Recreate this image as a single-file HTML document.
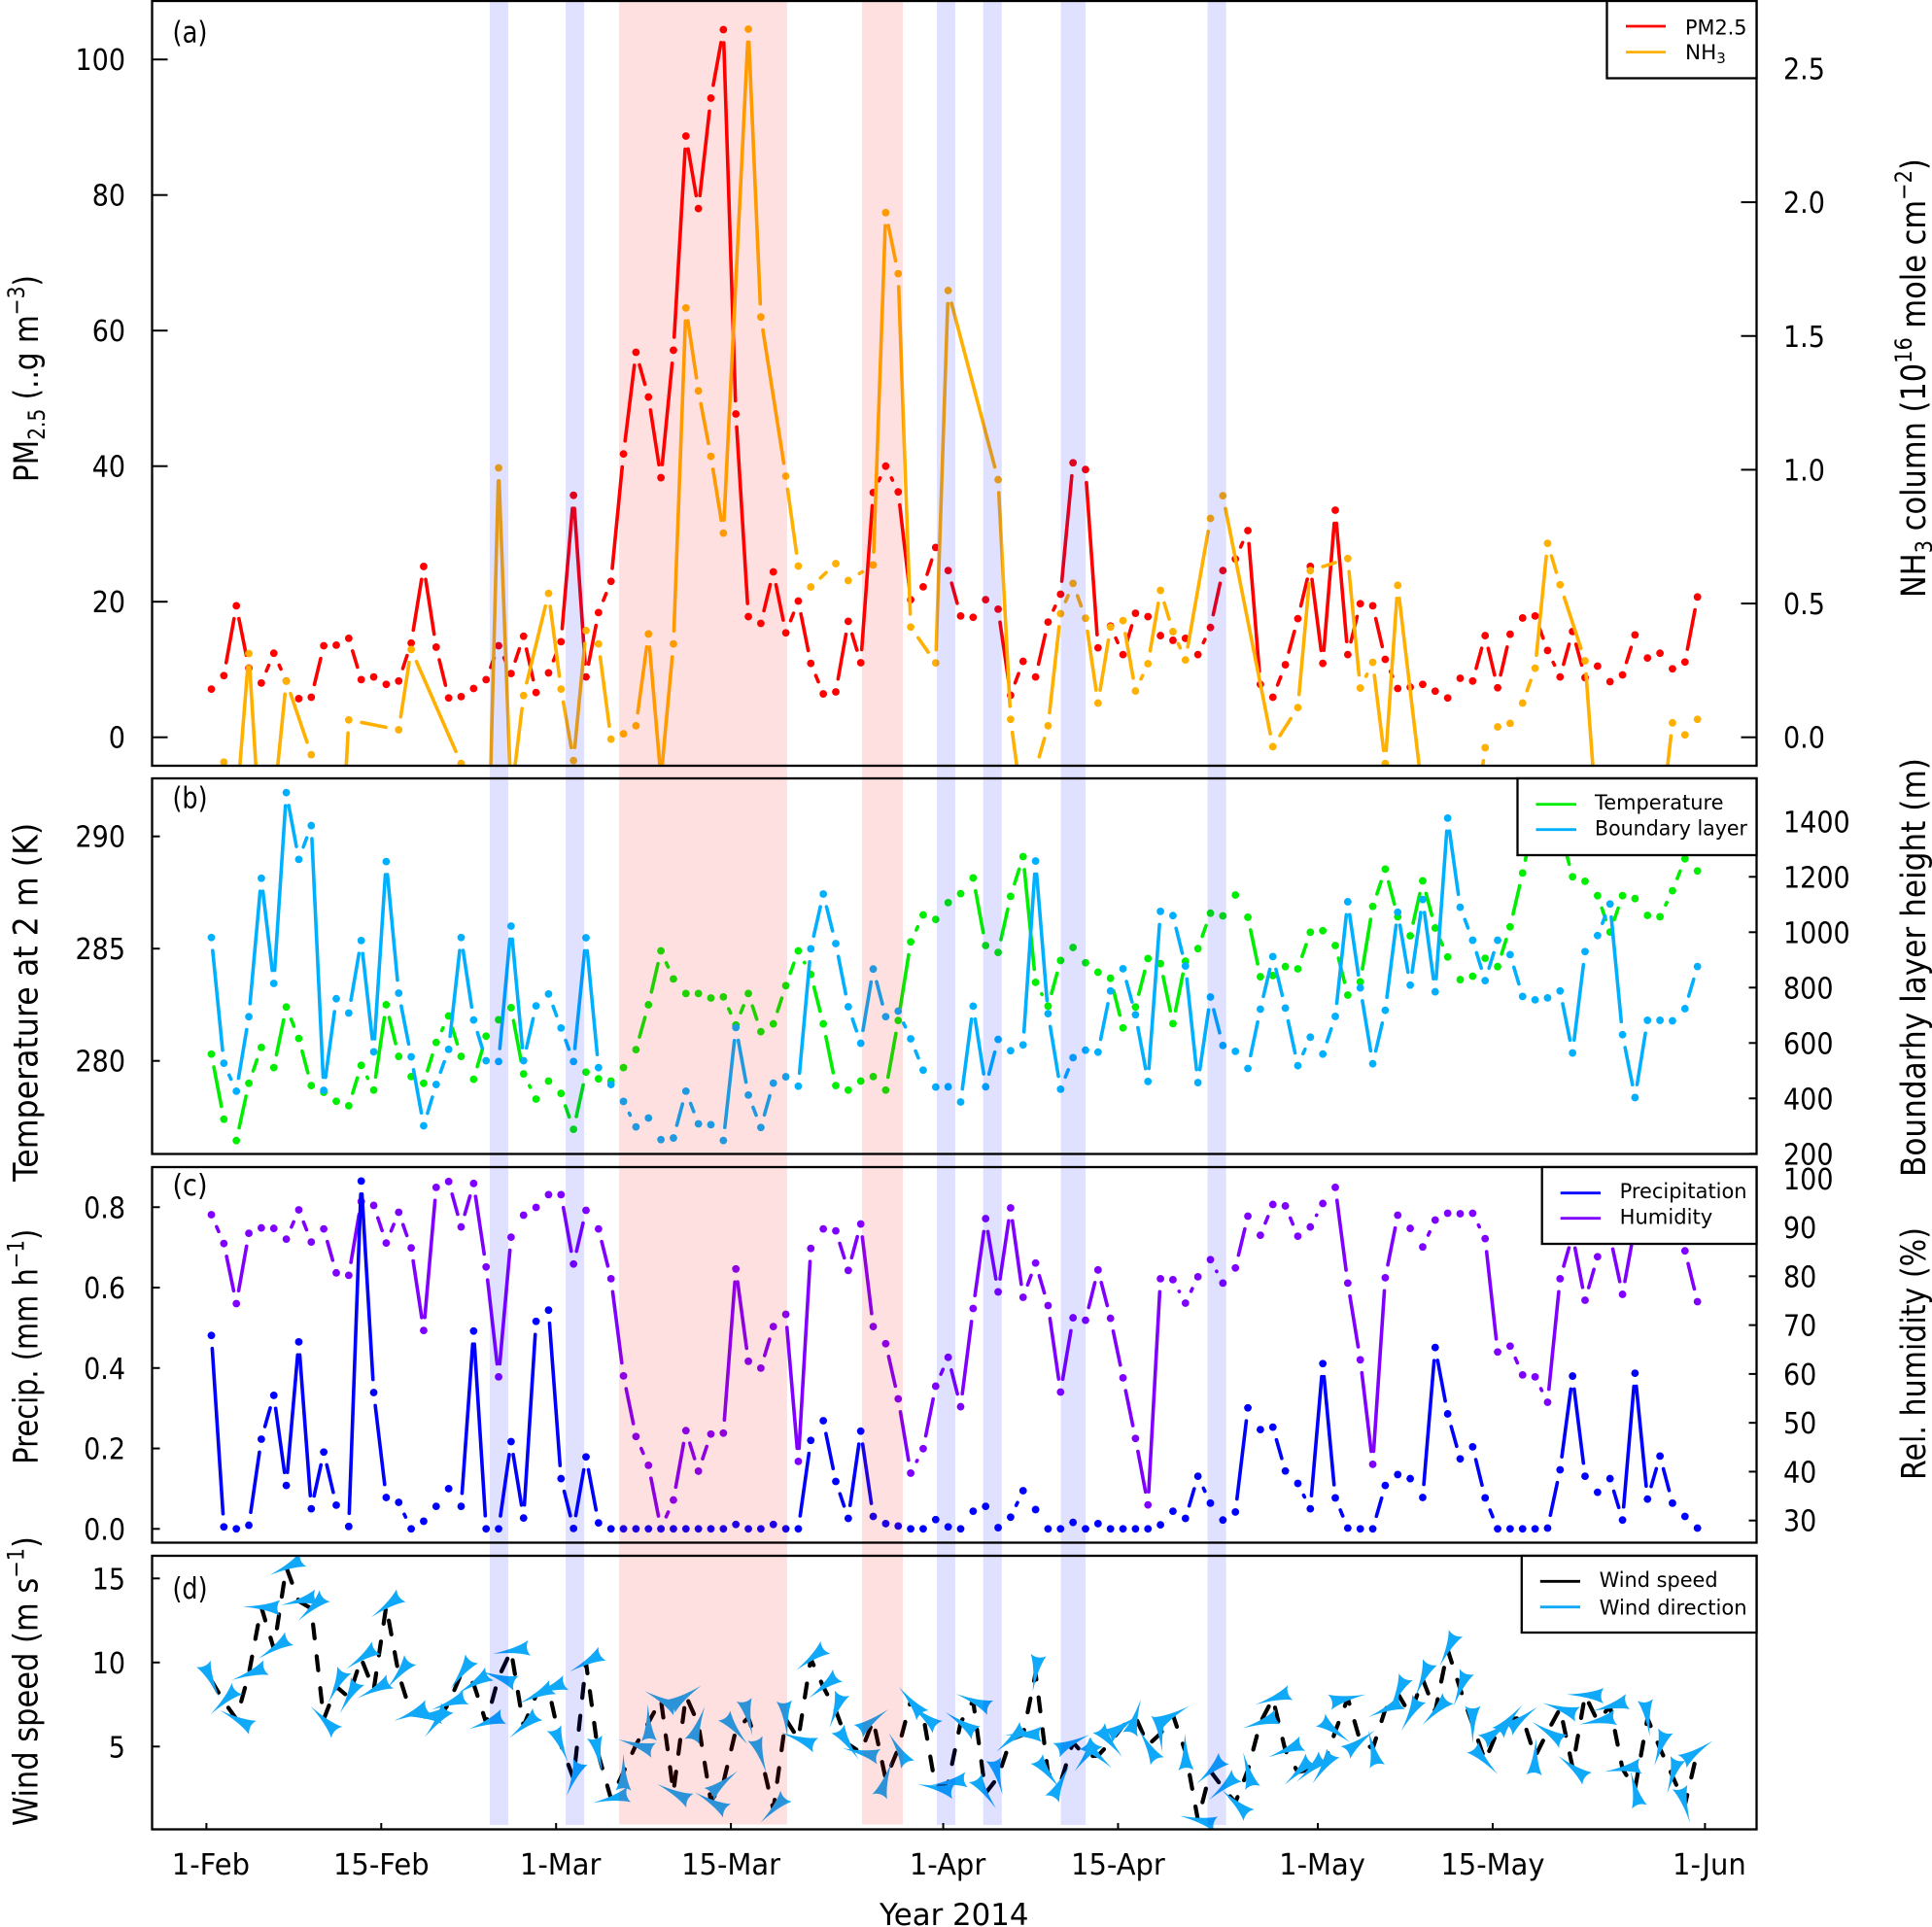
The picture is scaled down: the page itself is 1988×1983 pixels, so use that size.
<!DOCTYPE html>
<html lang="en">
<head>
<meta charset="utf-8">
<title>Year 2014 time series</title>
<style>
html,body{margin:0;padding:0;background:#fff}
svg{display:block}
text{font-family:"DejaVu Sans","Liberation Sans",sans-serif;fill:#000}
</style>
</head>
<body>
<svg id="chart" xmlns="http://www.w3.org/2000/svg" width="1988" height="1983" viewBox="0 0 1988 1983">
<rect x="0" y="0" width="1988" height="1983" fill="#fff"/>
<defs>
<clipPath id="clip-a"><rect x="156.5" y="1" width="1651" height="787"/></clipPath>
<clipPath id="clip-b"><rect x="156.5" y="801" width="1651" height="386.5"/></clipPath>
<clipPath id="clip-c"><rect x="156.5" y="1201" width="1651" height="386.5"/></clipPath>
<clipPath id="clip-d"><rect x="156.5" y="1601" width="1651" height="281.5"/></clipPath>
</defs>
<g id="series-layer"></g>
<g id="band-layer"></g>
<g id="axis-layer"></g>

<g fill="none" stroke="#000" stroke-width="2.3">
<rect x="156.5" y="1" width="1651" height="787"/>
<rect x="156.5" y="801" width="1651" height="386.5"/>
<rect x="156.5" y="1201" width="1651" height="386.5"/>
<rect x="156.5" y="1601" width="1651" height="281.5"/>
</g>

<g>
<rect x="1653.5" y="1" width="154" height="79.5" fill="#fff" stroke="#000" stroke-width="2.3"/>
<line x1="1673" x2="1714" y1="27" y2="27" stroke="#ff0000" stroke-width="2.8"/>
<line x1="1673" x2="1714" y1="53.6" y2="53.6" stroke="#ffb000" stroke-width="2.8"/>
<text x="1734" y="35.7" font-size="21.5" textLength="63.5" lengthAdjust="spacingAndGlyphs">PM2.5</text>
<text x="1734" y="61" font-size="21.5">NH<tspan font-size="15" dy="4">3</tspan></text>
</g>
<g>
<rect x="1561.5" y="801" width="246" height="79" fill="#fff" stroke="#000" stroke-width="2.3"/>
<line x1="1580.5" x2="1622" y1="827.7" y2="827.7" stroke="#00ee00" stroke-width="2.8"/>
<line x1="1580.5" x2="1622" y1="853.7" y2="853.7" stroke="#00b0ff" stroke-width="2.8"/>
<text x="1641" y="833" font-size="21.5" textLength="132.5" lengthAdjust="spacingAndGlyphs">Temperature</text>
<text x="1641" y="859.3" font-size="21.5" textLength="157" lengthAdjust="spacingAndGlyphs">Boundary layer</text>
</g>
<g>
<rect x="1586.7" y="1201" width="220.8" height="79" fill="#fff" stroke="#000" stroke-width="2.3"/>
<line x1="1605.7" x2="1647" y1="1227.7" y2="1227.7" stroke="#0000ff" stroke-width="2.8"/>
<line x1="1605.7" x2="1647" y1="1253.7" y2="1253.7" stroke="#8000ff" stroke-width="2.8"/>
<text x="1666.6" y="1233" font-size="21.5" textLength="131" lengthAdjust="spacingAndGlyphs">Precipitation</text>
<text x="1666.6" y="1259.3" font-size="21.5" textLength="95.6" lengthAdjust="spacingAndGlyphs">Humidity</text>
</g>
<g>
<rect x="1565.8" y="1601" width="241.7" height="79" fill="#fff" stroke="#000" stroke-width="2.3"/>
<line x1="1584.8" x2="1626" y1="1627.3" y2="1627.3" stroke="#000" stroke-width="2.8"/>
<line x1="1584.8" x2="1626" y1="1653.7" y2="1653.7" stroke="#10a8f8" stroke-width="2.8"/>
<text x="1645.6" y="1633" font-size="21.5" textLength="122" lengthAdjust="spacingAndGlyphs">Wind speed</text>
<text x="1645.6" y="1661.5" font-size="21.5" textLength="152" lengthAdjust="spacingAndGlyphs">Wind direction</text>
</g>

<g>
<text x="177.5" y="43.5" font-size="30" textLength="36" lengthAdjust="spacingAndGlyphs">(a)</text>
<text x="177.5" y="831.7" font-size="30" textLength="36" lengthAdjust="spacingAndGlyphs">(b)</text>
<text x="177.5" y="1230" font-size="30" textLength="36" lengthAdjust="spacingAndGlyphs">(c)</text>
<text x="177.5" y="1645" font-size="30" textLength="36" lengthAdjust="spacingAndGlyphs">(d)</text>
</g>

<g>
<text class="vt" data-x="39" data-y="496" data-len="213" font-size="35">PM<tspan font-size="24" dy="7">2.5</tspan><tspan dy="-7"> (..g m</tspan><tspan font-size="24" dy="-14">−3</tspan><tspan dy="14">)</tspan></text>
<text class="vt" data-x="38.5" data-y="1215.7" data-len="369" font-size="35">Temperature at 2 m  (K)</text>
<text class="vt" data-x="38.5" data-y="1506.7" data-len="242" font-size="35">Precip. (mm h<tspan font-size="24" dy="-14">−1</tspan><tspan dy="14">)</tspan></text>
<text class="vt" data-x="38.5" data-y="1879" data-len="298" font-size="35">Wind speed (m s<tspan font-size="24" dy="-14">−1</tspan><tspan dy="14">)</tspan></text>
<text class="vt" data-x="1981" data-y="615" data-len="452" font-size="35">NH<tspan font-size="24" dy="7">3</tspan><tspan dy="-7"> column (10</tspan><tspan font-size="24" dy="-14">16</tspan><tspan dy="14"> mole cm</tspan><tspan font-size="24" dy="-14">−2</tspan><tspan dy="14">)</tspan></text>
<text class="vt" data-x="1981" data-y="1211" data-len="431" font-size="35">Boundarhy layer height (m)</text>
<text class="vt" data-x="1981" data-y="1523" data-len="260" font-size="35">Rel. humidity (%)</text>
<text x="905" y="1981" font-size="31" textLength="153.5" lengthAdjust="spacingAndGlyphs">Year 2014</text>
</g>

<script>
const xTickDays = [0, 14, 28, 42, 59, 73, 89, 103, 120];
const xTickLabels = ['1-Feb', '15-Feb', '1-Mar', '15-Mar', '1-Apr', '15-Apr', '1-May', '15-May', '1-Jun'];

const pmTicks = [0, 20, 40, 60, 80, 100];
const pmTickLabels = ['0', '20', '40', '60', '80', '100'];
const nh3Ticks = [0, 0.5, 1, 1.5, 2, 2.5];
const nh3TickLabels = ['0.0', '0.5', '1.0', '1.5', '2.0', '2.5'];
const tempTicks = [280, 285, 290];
const tempTickLabels = ['280', '285', '290'];
const blhTicks = [200, 400, 600, 800, 1000, 1200, 1400];
const blhTickLabels = ['200', '400', '600', '800', '1000', '1200', '1400'];
const precipTicks = [0, 0.2, 0.4, 0.6, 0.8];
const precipTickLabels = ['0.0', '0.2', '0.4', '0.6', '0.8'];
const rhTicks = [30, 40, 50, 60, 70, 80, 90, 100];
const rhTickLabels = ['30', '40', '50', '60', '70', '80', '90', '100'];
const windTicks = [5, 10, 15];
const windTickLabels = ['5', '10', '15'];

const blueBandDays = [[22.69, 24.17], [28.77, 30.25], [58.49, 59.97], [62.2, 63.69], [68.42, 70.4], [80.17, 81.65]];
const pinkBandDays = [[33.04, 46.5], [52.5, 55.77]];

const pm25 = [7.1,9.1,19.4,10.2,8.0,12.4,8.3,5.7,5.9,13.5,13.6,14.6,8.5,8.9,7.8,8.3,13.9,25.2,13.3,5.8,
6.0,7.2,8.5,13.5,9.4,14.9,6.6,9.5,14.1,35.7,8.9,18.4,23.0,41.8,56.8,50.2,38.3,57.1,88.7,78.0,
94.3,104.4,47.7,17.8,16.8,24.4,15.4,20.1,10.9,6.4,6.7,17.1,11.0,36.1,40.0,36.2,20.3,22.2,28.0,24.6,
17.9,17.7,20.3,18.9,6.2,11.2,8.9,17.0,21.1,40.5,39.5,13.2,16.4,12.2,18.3,17.8,15.0,14.3,14.6,12.2,
16.2,24.6,26.3,30.5,7.8,5.9,10.7,17.5,25.2,10.9,33.5,12.2,19.7,19.4,11.5,7.2,7.4,7.8,6.8,5.8,
8.7,8.3,15.0,7.3,15.2,17.6,17.9,12.8,8.9,15.6,8.8,10.5,8.2,9.2,15.1,11.7,12.4,10.1,11.1,20.7];

const nh3 = [null,-0.093,-0.27,0.313,-0.43,-0.25,0.21,null,-0.065,null,-0.79,0.065,null,null,null,0.028,0.328,null,null,null,
-0.098,null,-0.77,1.007,-0.228,0.156,null,0.538,0.18,-0.087,0.399,0.349,-0.007,0.013,0.043,0.386,-0.154,0.349,1.605,1.295,
1.05,0.763,null,2.647,1.571,null,0.976,0.64,0.562,null,0.649,0.586,null,0.644,1.961,1.733,0.412,null,0.278,1.67,
null,null,null,0.963,0.067,-0.284,-0.12,0.043,0.462,0.575,0.445,0.128,0.412,0.436,0.173,0.275,0.549,0.395,0.289,null,
0.818,0.903,null,null,null,-0.035,null,0.111,0.623,null,null,0.668,0.184,0.28,-0.098,0.568,null,-0.219,null,null,
null,-0.39,-0.039,0.039,0.052,0.128,0.258,0.725,0.57,null,0.286,-0.345,null,null,null,null,-0.354,0.054,0.009,0.067];

const temperature = [280.3,277.4,276.45,279.0,280.6,279.7,282.4,281.0,278.9,278.6,278.2,278.0,279.8,278.7,282.5,280.2,279.3,279.0,280.82,282.0,
280.2,279.18,281.1,281.83,282.37,279.42,278.3,279.1,278.55,276.95,279.5,279.2,279.1,279.7,280.5,282.5,284.9,283.65,283.0,283.0,
282.8,282.85,281.6,283.0,281.3,281.65,283.35,284.9,283.85,281.65,278.9,278.7,279.1,279.3,278.7,281.8,285.3,286.5,286.3,287.05,
287.45,288.15,285.14,284.83,287.33,289.1,283.5,282.44,284.47,285.05,284.37,283.95,283.68,281.47,282.4,284.56,284.33,281.66,284.44,285.0,
286.58,286.46,287.39,286.4,283.75,283.8,284.2,284.1,285.73,285.8,285.14,282.93,283.52,286.88,288.54,286.42,285.57,288.02,285.92,284.63,
283.62,283.77,284.57,284.2,285.97,288.37,291.0,291.5,290.3,288.2,288.0,287.36,285.74,287.36,287.23,286.48,286.42,287.58,289.0,288.46];

const boundaryLayer = [981,527,426,695,1195,815,1504,1263,1385,429,760,708,970,568,1255,780,550,301,450,577,
981,683,536,533,1022,536,734,777,654,533,980,511,450,389,297,329,251,257,426,308,
305,248,656,412,295,455,478,444,940,1138,959,731,599,867,695,715,615,502,441,442,
387,733,442,613,572,593,1257,706,433,547,574,567,788,868,702,461,1075,1060,878,457,
766,591,570,508,722,912,726,518,621,560,696,1110,799,525,718,1072,809,1118,785,1412,
1090,971,825,971,919,768,756,763,788,564,930,988,1102,630,403,682,682,680,724,876];

const precipitation = [0.481,0.005,0,0.009,0.223,0.332,0.108,0.465,0.05,0.191,0.059,0.006,0.865,0.339,0.078,0.066,0,0.019,0.056,0.1,
0.056,0.492,0,0,0.217,0.027,0.516,0.544,0.125,0.001,0.179,0.015,0,0,0,0,0,0,0,0,
0,0,0.011,0,0,0.011,0,0,0.22,0.269,0.118,0.026,0.243,0.031,0.013,0.007,0,0,0.023,0.005,
0,0.044,0.056,0.003,0.029,0.095,0.048,0,0,0.016,0,0.013,0,0,0,0,0.01,0.044,0.026,0.131,
0.064,0.022,0.042,0.301,0.247,0.253,0.144,0.113,0.05,0.411,0.077,0.002,0,0,0.108,0.135,0.125,0.078,0.451,0.286,
0.174,0.204,0.077,0,0,0,0,0.002,0.147,0.38,0.131,0.091,0.125,0.022,0.387,0.074,0.181,0.064,0.031,0.002];

const humidity = [92.6,86.7,74.4,88.8,89.9,89.8,87.6,93.6,87.0,89.7,80.7,80.2,95.3,94.5,86.8,93.1,85.8,68.9,98.2,99.4,
90.1,99.0,81.9,59.4,88.0,92.5,94.1,96.7,96.7,82.5,93.5,89.7,79.5,59.6,47.2,41.3,28.3,34.2,48.4,40.1,
47.7,47.9,81.5,62.6,61.2,69.7,72.2,42.1,85.7,89.7,89.3,81.2,90.7,69.7,66.2,54.9,39.7,44.7,57.5,63.4,
53.3,73.4,91.8,76.8,94.0,75.7,82.7,74.0,56.3,71.5,71.0,81.3,71.4,59.2,46.8,33.2,79.5,79.3,74.5,79.9,
83.4,78.6,81.7,92.3,88.4,94.7,94.4,88.2,90.1,94.9,98.2,78.6,62.9,41.5,79.7,92.5,89.8,86.0,91.5,92.9,
92.8,92.9,87.7,64.5,65.7,59.8,59.4,54.2,79.5,88.4,75.1,84.0,88.2,76.3,90.3,90.3,90.0,89.3,85.2,74.8];

const windSpeed = [8.93,7.68,6.64,9.32,13.29,10.82,15.66,13.65,13.21,6.62,8.57,7.93,10.24,8.37,13.34,9.3,6.93,6.81,6.43,7.56,
9.32,8.74,6.41,9.12,10.69,6.22,8.05,8.43,5.08,3.09,9.99,4.5,1.9,3.48,5.1,6.43,7.78,2.28,8.01,6.33,
1.73,2.86,5.98,6.72,4.44,1.26,6.62,5.46,10.22,8.55,7.14,5.14,4.65,6.56,3.06,4.87,7.7,6.85,2.55,2.86,
6.43,7.72,2.23,3.19,5.41,5.71,9.36,3.4,2.86,5.25,4.4,4.46,5.25,6.23,6.77,5.08,5.77,6.87,4.69,0.63,
3.54,2.55,1.67,3.6,6.43,7.85,4.77,3.48,3.63,3.71,5.91,7.87,5.31,4.89,7.2,8.16,6.89,9.01,7.08,10.76,
8.43,6.31,4.15,5.95,6.64,6.7,4.4,5.89,7.26,3.77,8.06,6.52,7.39,3.67,2.48,6.68,4.89,3.25,1.53,4.73];

const windDirection = [155,226,298,250,272,237,245,257,227,315,206,209,235,243,234,219,248,270,218,250,
215,238,250,289,261,230,244,250,158,202,241,168,257,0,287,358,298,297,56,20,
300,51,141,167,162,224,175,290,232,232,200,146,283,54,19,329,320,309,281,261,
304,292,146,166,230,269,189,142,27,65,217,132,141,56,17,330,175,61,358,283,
227,229,313,345,252,251,248,226,228,214,127,78,53,346,246,206,209,203,224,206,
201,180,137,54,41,53,3,302,288,308,272,259,255,261,346,173,198,197,164,56];

const NS = 'http://www.w3.org/2000/svg';
const xDay = d => 212.4 + 12.85 * d;
const xPoint = i => xDay(i + 0.397);
const yPm = v => 758.7 - 6.975 * v;
const yNh3 = v => 758.7 - 275.3 * v;
const yTemp = v => 1091.7 - 23.1 * (v - 280);
const yBlh = v => 1187.3 - 0.285 * (v - 200);
const yPrecip = v => 1573.3 - 413.8 * v;
const yRh = v => 1564.7 - 5.027 * (v - 30);
const yWind = v => 1797.3 - 17.3 * (v - 5);

function make(tag, parent, attrs) {
  const el = document.createElementNS(NS, tag);
  for (const k in attrs) el.setAttribute(k, attrs[k]);
  parent.appendChild(el);
  return el;
}

function drawSeries(parent, name, values, yFn, color) {
  const group = make('g', parent, {});
  
  
  const gap = 13.5;
  const pts = [];
  values.forEach((v, i) => { if (v !== null) pts.push([xPoint(i), yFn(v)]); });
  for (let k = 0; k + 1 < pts.length; k++) {
    const dx = pts[k + 1][0] - pts[k][0];
    const dy = pts[k + 1][1] - pts[k][1];
    const len = Math.hypot(dx, dy);
    if (len <= 2 * gap) continue;
    const ux = dx / len, uy = dy / len;
    const seg = make('line', group, {
      x1: pts[k][0] + ux * gap, y1: pts[k][1] + uy * gap,
      x2: pts[k + 1][0] - ux * gap, y2: pts[k + 1][1] - uy * gap,
      stroke: color, 'stroke-width': 3.6, 'stroke-linecap': 'round'
    });
    
    
  }
  pts.forEach(p => {
    const dot = make('circle', group, { cx: p[0], cy: p[1], r: 3.9, fill: color });
    
    
  });
}

const seriesLayer = document.getElementById('series-layer');
const panelA = make('g', seriesLayer, { 'clip-path': 'url(#clip-a)' });


const panelB = make('g', seriesLayer, { 'clip-path': 'url(#clip-b)' });


const panelC = make('g', seriesLayer, { 'clip-path': 'url(#clip-c)' });


const panelD = make('g', seriesLayer, { 'clip-path': 'url(#clip-d)' });



drawSeries(panelA, 'pm25', pm25, yPm, '#ff0000');
drawSeries(panelA, 'nh3', nh3, yNh3, '#ffb000');
drawSeries(panelB, 'temperature', temperature, yTemp, '#00ee00');
drawSeries(panelB, 'boundary-layer', boundaryLayer, yBlh, '#00b0ff');
drawSeries(panelC, 'humidity', humidity, yRh, '#8000ff');
drawSeries(panelC, 'precipitation', precipitation, yPrecip, '#0000ff');

const windLine = make('path', panelD, {
  d: windSpeed.map((v, i) => (i ? 'L' : 'M') + xPoint(i).toFixed(2) + ' ' + yWind(v).toFixed(2)).join(' '),
  fill: 'none', stroke: '#000', 'stroke-width': 4.2, 'stroke-linecap': 'round',
  'stroke-linejoin': 'round', 'stroke-dasharray': '14.5 18.5'
});



windSpeed.forEach((v, i) => {
  const arrow = make('path', panelD, {
    d: 'M0 -19 Q1.8 6 8 19 Q0 14 -8 19 Q-1.8 6 0 -19 Z',
    fill: '#10a8f8',
    transform: 'translate(' + xPoint(i).toFixed(2) + ' ' + yWind(v).toFixed(2) + ') rotate(' + windDirection[i] + ')'
  });
  
  
});

const bandLayer = document.getElementById('band-layer');
blueBandDays.forEach(b => {
  const band = make('rect', bandLayer, { x: xDay(b[0]), y: 0, width: xDay(b[1]) - xDay(b[0]), height: 1878, fill: 'rgba(0,0,255,0.122)' });
  
  
});
pinkBandDays.forEach(b => {
  const band = make('rect', bandLayer, { x: xDay(b[0]), y: 0, width: xDay(b[1]) - xDay(b[0]), height: 1877.5, fill: 'rgba(255,0,0,0.122)' });
  
  
});

const axisLayer = document.getElementById('axis-layer');

function yAxis(name, ticks, labels, yFn, side, tickLen) {
  ticks.forEach((t, i) => {
    const y = yFn(t);
    const edge = side === 'left' ? 156.5 : 1807.5;
    const inner = side === 'left' ? edge + tickLen : edge - tickLen;
    const tick = make('line', axisLayer, { x1: edge, x2: inner, y1: y, y2: y, stroke: '#000', 'stroke-width': 2 });
    
    
    const label = make('text', axisLayer, {
      x: side === 'left' ? 129 : 1835, y: y + 11, 'font-size': 30.5,
      'text-anchor': side === 'left' ? 'end' : 'start'
    });
    label.textContent = labels[i];
    
    
    label.setAttribute('textLength', (label.getComputedTextLength() * 0.885).toFixed(1));
    label.setAttribute('lengthAdjust', 'spacingAndGlyphs');
  });
}

yAxis('pm25-axis', pmTicks, pmTickLabels, yPm, 'left', 16);
yAxis('nh3-axis', nh3Ticks, nh3TickLabels, yNh3, 'right', 16);
yAxis('temperature-axis', tempTicks, tempTickLabels, yTemp, 'left', 8);
yAxis('boundary-layer-axis', blhTicks, blhTickLabels, yBlh, 'right', 8);
yAxis('precipitation-axis', precipTicks, precipTickLabels, yPrecip, 'left', 8);
yAxis('humidity-axis', rhTicks, rhTickLabels, yRh, 'right', 8);
yAxis('wind-speed-axis', windTicks, windTickLabels, yWind, 'left', 8);

xTickDays.forEach((d, i) => {
  const x = xDay(d);
  const tick = make('line', axisLayer, { x1: x, x2: x, y1: 1882.5, y2: 1876, stroke: '#000', 'stroke-width': 2 });
  
  
  const text = xTickLabels[i];
  const label = make('text', axisLayer, {
    x: x + (text.indexOf('15') === 0 ? 0 : 4.5), y: 1929, 'font-size': 30.5, 'text-anchor': 'middle'
  });
  label.textContent = text;
  
  
  label.setAttribute('textLength', (label.getComputedTextLength() * 0.95).toFixed(1));
  label.setAttribute('lengthAdjust', 'spacingAndGlyphs');
});

document.querySelectorAll('text.vt').forEach(el => {
  const len = el.getComputedTextLength();
  const s = parseFloat(el.getAttribute('data-len')) / len;
  el.setAttribute('transform', 'translate(' + el.getAttribute('data-x') + ' ' + el.getAttribute('data-y') + ') rotate(-90) scale(' + s.toFixed(4) + ' 1)');
});
</script>
</svg>
</body>
</html>
